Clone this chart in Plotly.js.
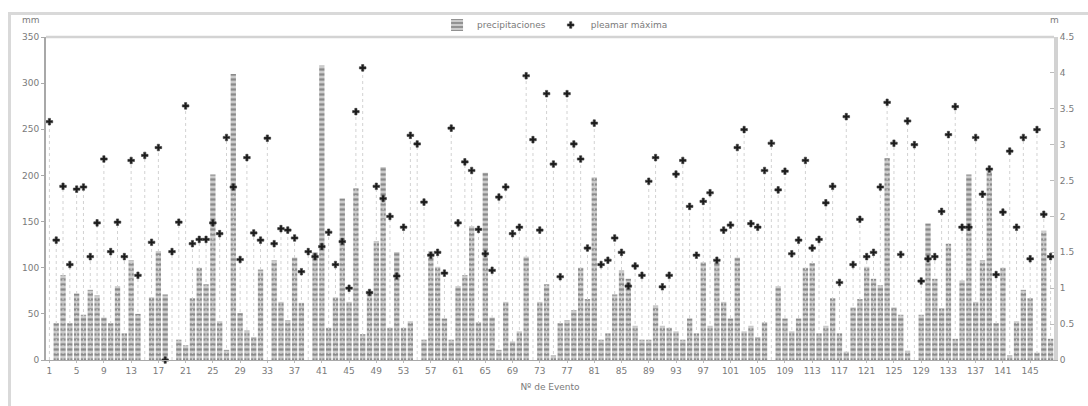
<!DOCTYPE html>
<html>
<head>
<meta charset="utf-8">
<script src="https://cdn.plot.ly/plotly-3.0.1.min.js"></script>
<style>
  html, body { margin: 0; padding: 0; background: #ffffff; }
  #chart { width: 1088px; height: 406px; }
</style>
</head>
<body>
<div id="chart"></div>
<script>
// Event numbers (Nº de Evento)
const eventos = [
  1,2,3,4,5,6,7,8,9,10,11,12,13,14,15,16,17,18,19,20,
  21,22,23,24,25,26,27,28,29,30,31,32,33,34,35,36,37,38,39,40,
  41,42,43,44,45,46,47,48,49,50,51,52,53,54,55,56,57,58,59,60,
  61,62,63,64,65,66,67,68,69,70,71,72,73,74,75,76,77,78,79,80,
  81,82,83,84,85,86,87,88,89,90,91,92,93,94,95,96,97,98,99,100,
  101,102,103,104,105,106,107,108,109,110,111,112,113,114,115,116,117,118,119,120,
  121,122,123,124,125,126,127,128,129,130,131,132,133,134,135,136,137,138,139,140,
  141,142,143,144,145,146,147,148
];

// precipitaciones (mm), left axis
const precipitaciones = [
  0,40,92,40,72,49,76,70,46,40,80,29,108,50,0,68,118,71,0,22,
  16,67,100,82,201,42,11,310,51,32,25,98,0,108,63,43,111,62,0,117,
  319,35,68,175,63,186,28,75,129,209,35,117,35,42,0,22,118,101,45,22,
  80,92,145,41,203,46,11,63,20,31,112,0,63,82,5,40,43,54,100,66,
  198,22,29,71,97,88,37,22,22,59,37,35,31,22,45,29,106,37,108,63,
  45,111,31,37,25,41,0,80,45,31,45,100,105,29,37,67,29,9,57,66,
  101,88,81,219,57,49,10,0,49,148,88,56,126,23,86,201,63,108,205,40,
  100,5,42,76,67,8,140,23
];

// pleamar máxima (m), right axis
const pleamar = [
  3.32,1.67,2.42,1.33,2.38,2.41,1.44,1.91,2.80,1.51,1.92,1.44,2.78,1.18,2.85,1.64,2.96,0.00,1.51,1.92,
  3.54,1.62,1.68,1.68,1.91,1.76,3.10,2.41,1.40,2.82,1.77,1.67,3.09,1.62,1.83,1.81,1.70,1.23,1.51,1.44,
  1.58,1.78,1.33,1.65,1.00,3.46,4.07,0.94,2.42,2.25,2.00,1.17,1.85,3.13,3.01,2.20,1.46,1.50,1.21,3.23,
  1.91,2.76,2.64,1.82,1.48,1.25,2.27,2.41,1.76,1.85,3.96,3.07,1.81,3.71,2.73,1.16,3.71,3.01,2.80,1.56,
  3.30,1.33,1.39,1.70,1.50,1.03,1.31,1.18,2.49,2.82,1.02,1.18,2.59,2.78,2.14,1.46,2.21,2.33,1.39,1.81,
  1.88,2.96,3.21,1.90,1.85,2.64,3.02,2.37,2.63,1.48,1.67,2.78,1.56,1.68,2.19,2.42,1.08,3.39,1.33,1.96,
  1.44,1.50,2.41,3.59,3.02,1.47,3.33,3.00,1.10,1.41,1.44,2.07,3.14,3.53,1.85,1.85,3.10,2.31,2.66,1.19,
  2.06,2.91,1.85,3.10,1.41,3.21,2.03,1.44
];

// x tick labels
const xTicks = [1,5,9,13,17,21,25,29,33,37,41,45,49,53,57,61,65,69,73,77,81,85,89,93,97,101,105,109,113,117,121,125,129,133,137,141,145];
const yLeftTicks = [0,50,100,150,200,250,300,350];
const yRightTicks = [0,0.5,1,1.5,2,2.5,3,3.5,4,4.5];

// drop lines built from the data
const dropX = [], dropY = [];
eventos.forEach((e, i) => { dropX.push(e, e, null); dropY.push(0, pleamar[i], null); });

const FONT = {family: 'DejaVu Sans, Liberation Sans, sans-serif', size: 9, color: '#7a7a7a'};

const traces = [
  {
    type: 'bar', name: 'precipitaciones', x: eventos, y: precipitaciones,
    yaxis: 'y', hoverinfo: 'x+y',
    marker: {
      color: '#c6c6c6',
      line: {width: 0},
      pattern: {shape: '-', size: 5, solidity: 0.45, fgcolor: '#8a8a8a', bgcolor: '#cbcbcb'}
    }
  },
  {
    type: 'scatter', mode: 'lines', x: dropX, y: dropY, yaxis: 'y2',
    showlegend: false, hoverinfo: 'skip',
    line: {color: '#d2d2d2', width: 1, dash: 'dot'}
  },
  {
    type: 'scatter', mode: 'markers', name: 'pleamar máxima', x: eventos, y: pleamar,
    yaxis: 'y2', cliponaxis: false,
    marker: {symbol: 'cross', size: 5.5, color: '#1c1c1c', line: {width: 0.6, color: '#3a3a3a'}}
  }
];

const layout = {
  width: 1088, height: 406,
  margin: {l: 46, r: 34, t: 36, b: 46, pad: 0},
  paper_bgcolor: '#ffffff', plot_bgcolor: '#ffffff',
  font: FONT,
  bargap: 0.22,
  showlegend: true,
  legend: {
    orientation: 'h', x: 0.505, xanchor: 'center', y: 1.034, yanchor: 'middle',
    font: FONT, bgcolor: 'rgba(0,0,0,0)', itemwidth: 30, tracegroupgap: 0
  },
  xaxis: {
    range: [0.5, 148.5], tickmode: 'array', tickvals: xTicks, ticktext: xTicks.map(String),
    showgrid: false, zeroline: false, showline: true, linecolor: '#a9a9a9', linewidth: 1,
    ticks: 'outside', ticklen: 2, tickcolor: '#bbbbbb', tickfont: FONT,
    title: {text: 'Nº de Evento', font: FONT, standoff: 8}
  },
  yaxis: {
    range: [0, 350], tickmode: 'array', tickvals: yLeftTicks,
    showgrid: false, zeroline: false, showline: true, linecolor: '#a8a8a8', linewidth: 2,
    ticks: 'outside', ticklen: 3, tickcolor: '#aaaaaa', tickfont: FONT
  },
  yaxis2: {
    range: [0, 4.5], tickmode: 'array', tickvals: yRightTicks, overlaying: 'y', side: 'right',
    showgrid: false, zeroline: false, showline: true, linecolor: '#d2d2d2', linewidth: 4,
    ticks: 'inside', ticklen: 4, tickcolor: '#bbbbbb', tickfont: FONT
  },
  shapes: [
    {type: 'line', xref: 'paper', yref: 'paper', x0: 0, x1: 1, y0: 1, y1: 1,
     line: {color: '#d3d3d3', width: 2.5}},
    {type: 'rect', xref: 'paper', yref: 'paper', x0: -0.0362, x1: 1.06, y0: -0.2, y1: 1.0725,
     line: {color: '#d9d9d9', width: 3}, fillcolor: 'rgba(0,0,0,0)', layer: 'below'}
  ],
  annotations: [
    {text: 'mm', xref: 'paper', yref: 'paper', x: -0.004, y: 1.03, xanchor: 'right', yanchor: 'bottom',
     showarrow: false, font: FONT},
    {text: 'm', xref: 'paper', yref: 'paper', x: 1.0, y: 1.03, xanchor: 'center', yanchor: 'bottom',
     showarrow: false, font: FONT}
  ]
};

Plotly.newPlot('chart', traces, layout, {displayModeBar: false, staticPlot: true});
</script>
</body>
</html>
